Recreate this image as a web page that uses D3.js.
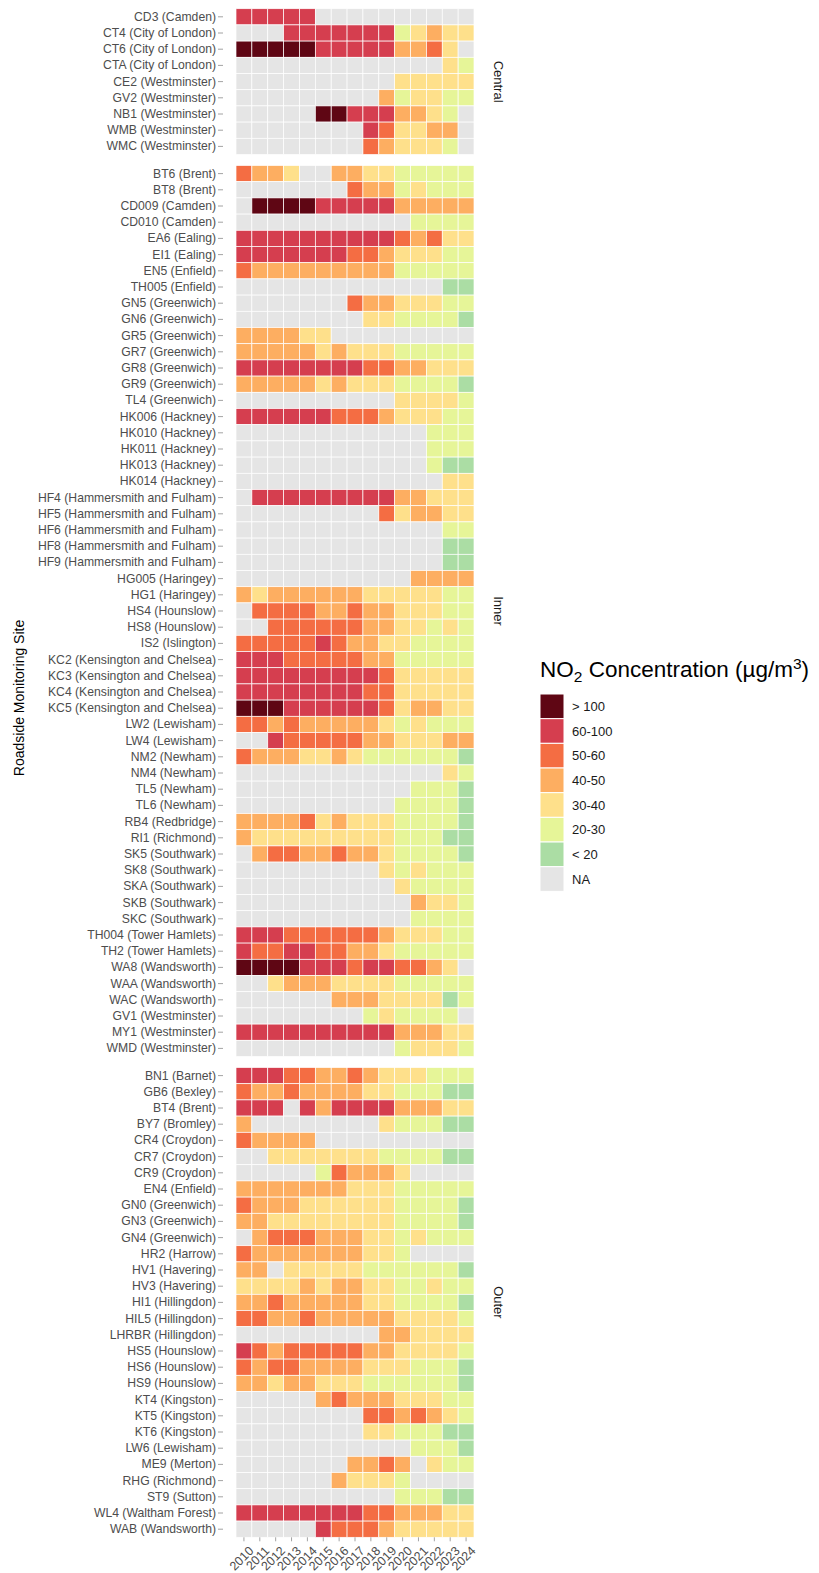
<!DOCTYPE html>
<html>
<head>
<meta charset="utf-8">
<script src="https://cdn.jsdelivr.net/npm/d3@7"></script>
<style>
  html, body { margin: 0; padding: 0; background: #fff; }
  svg { display: block; font-family: "Liberation Sans", Arial, sans-serif; }
</style>
</head>
<body>
<svg id="chart" width="819" height="1573"></svg>
<script>
// ---------------- DATA ----------------
const years = ["2010","2011","2012","2013","2014","2015","2016","2017","2018","2019","2020","2021","2022","2023","2024"];

// concentration bands (legend order) and cell codes used in the rows below
const bandLabels = ["> 100", "60-100", "50-60", "40-50", "30-40", "20-30", "< 20", "NA"];
const bandCodes  = ["X", "6", "5", "4", "3", "2", "1", "."];
const bandColours = ["#5f0614", "#d53e4f", "#f46d43", "#fdae61", "#fee08b", "#e6f598", "#abdda4", "#e5e5e5"];

const zones = ["Central", "Inner", "Outer"];

const centralSites = ["CD3 (Camden)","CT4 (City of London)","CT6 (City of London)","CTA (City of London)","CE2 (Westminster)","GV2 (Westminster)","NB1 (Westminster)","WMB (Westminster)","WMC (Westminster)"];
const centralBands = [
  "66666..........",
  "...666666623433",
  "XXXXX666664453.",
  ".............32",
  "..........33333",
  ".........423322",
  ".....XX6664432.",
  "........653344.",
  "........543332."
];

const innerSites = ["BT6 (Brent)","BT8 (Brent)","CD009 (Camden)","CD010 (Camden)","EA6 (Ealing)","EI1 (Ealing)","EN5 (Enfield)","TH005 (Enfield)","GN5 (Greenwich)","GN6 (Greenwich)","GR5 (Greenwich)","GR7 (Greenwich)","GR8 (Greenwich)","GR9 (Greenwich)","TL4 (Greenwich)","HK006 (Hackney)","HK010 (Hackney)","HK011 (Hackney)","HK013 (Hackney)","HK014 (Hackney)","HF4 (Hammersmith and Fulham)","HF5 (Hammersmith and Fulham)","HF6 (Hammersmith and Fulham)","HF8 (Hammersmith and Fulham)","HF9 (Hammersmith and Fulham)","HG005 (Haringey)","HG1 (Haringey)","HS4 (Hounslow)","HS8 (Hounslow)","IS2 (Islington)","KC2 (Kensington and Chelsea)","KC3 (Kensington and Chelsea)","KC4 (Kensington and Chelsea)","KC5 (Kensington and Chelsea)","LW2 (Lewisham)","LW4 (Lewisham)","NM2 (Newham)","NM4 (Newham)","TL5 (Newham)","TL6 (Newham)","RB4 (Redbridge)","RI1 (Richmond)","SK5 (Southwark)","SK8 (Southwark)","SKA (Southwark)","SKB (Southwark)","SKC (Southwark)","TH004 (Tower Hamlets)","TH2 (Tower Hamlets)","WA8 (Wandsworth)","WAA (Wandsworth)","WAC (Wandsworth)","GV1 (Westminster)","MY1 (Westminster)","WMD (Westminster)"];
const innerBands = [
  "5443..443322222",
  ".......54423222",
  ".XXXX6666644444",
  "...........2222",
  "666666666654533",
  "666666655433322",
  "544444444422222",
  ".............11",
  ".......54433322",
  "........3322221",
  "444433.........",
  "444443433322222",
  "666666665544333",
  "444443433322221",
  "..........33332",
  "666666555433322",
  "............222",
  "............222",
  "............211",
  ".............33",
  ".66666666644333",
  ".........534433",
  ".............22",
  ".............11",
  ".............11",
  "...........4444",
  "434444443333322",
  ".55554454433322",
  "..5555554433232",
  "555556544332222",
  "666555554422222",
  "666666666533333",
  "666666665533333",
  "XXX666666534433",
  "554544444323222",
  "..6555554433344",
  "544433432222221",
  ".............32",
  "...........2221",
  "..........22221",
  "444453433322221",
  "433333333322211",
  ".45544544322221",
  ".........323222",
  "..........32222",
  "...........4332",
  "...........2222",
  "666555555433322",
  "655665544322222",
  "XXXX6665665543.",
  "..3444333322222",
  "......444333312",
  "........232222.",
  "666666666644433",
  "..........23332"
];

const outerSites = ["BN1 (Barnet)","GB6 (Bexley)","BT4 (Brent)","BY7 (Bromley)","CR4 (Croydon)","CR7 (Croydon)","CR9 (Croydon)","EN4 (Enfield)","GN0 (Greenwich)","GN3 (Greenwich)","GN4 (Greenwich)","HR2 (Harrow)","HV1 (Havering)","HV3 (Havering)","HI1 (Hillingdon)","HIL5 (Hillingdon)","LHRBR (Hillingdon)","HS5 (Hounslow)","HS6 (Hounslow)","HS9 (Hounslow)","KT4 (Kingston)","KT5 (Kingston)","KT6 (Kingston)","LW6 (Lewisham)","ME9 (Merton)","RHG (Richmond)","ST9 (Sutton)","WL4 (Waltham Forest)","WAB (Wandsworth)"];
const outerBands = [
  "666554454333222",
  "544544443322211",
  "666.64666644433",
  "4........322211",
  "54444..........",
  "..3333333222211",
  ".....254443....",
  "444444433322222",
  "544433333322221",
  "443333333322221",
  ".45554443323222",
  "54444444332....",
  "44.333332222221",
  "333343443322322",
  "445444443322221",
  "554454444433332",
  ".........443333",
  "654555554433332",
  "545544443332221",
  "443443332222221",
  ".....4544433322",
  "........5545432",
  "........3322211",
  "...........2221",
  ".......4454.322",
  "......43332....",
  "..........22211",
  "666666665544433",
  ".....6555433333"
];

// ---------------- LAYOUT ----------------
const svg = d3.select("#chart");
const gridLeft = 236, gridRight = 474;
const rowH = 16.2, top0 = 8.7, panelGap = 11;

const x = d3.scaleBand().domain(years).range([gridLeft, gridRight]).padding(0);
const colour = d3.scaleOrdinal().domain(bandCodes).range(bandColours);

const panels = [
  { zone: zones[0], sites: centralSites, bands: centralBands },
  { zone: zones[1], sites: innerSites,   bands: innerBands },
  { zone: zones[2], sites: outerSites,   bands: outerBands }
];

let yStart = top0;
panels.forEach(p => {
  p.top = yStart;
  p.bottom = yStart + p.sites.length * rowH;
  p.y = d3.scaleBand().domain(p.sites).range([p.top, p.bottom]).padding(0);
  yStart = p.bottom + panelGap;
});

panels.forEach(p => {
  const g = svg.append("g");
  const cells = [];
  p.sites.forEach((s, i) => {
    years.forEach((yr, j) => {
      cells.push({ site: s, year: yr, code: p.bands[i][j] });
    });
  });
  g.selectAll("rect").data(cells).join("rect")
    .attr("x", d => x(d.year))
    .attr("y", d => p.y(d.site))
    .attr("width", x.bandwidth())
    .attr("height", p.y.bandwidth())
    .attr("fill", d => colour(d.code))
    .attr("stroke", "#ffffff")
    .attr("stroke-width", 0.7);

  // y axis
  const ax = svg.append("g")
    .attr("transform", `translate(223,0)`)
    .call(d3.axisLeft(p.y).tickSize(5).tickPadding(2));
  ax.select(".domain").remove();
  ax.selectAll(".tick line").attr("stroke", "#8c8c8c").attr("stroke-width", 0.8);
  ax.selectAll(".tick text")
    .attr("fill", "#4d4d4d")
    .style("font-size", "12.2px")
    .style("font-family", "'Liberation Sans', Arial, sans-serif");

  // strip label
  svg.append("text")
    .attr("transform", `translate(494,${(p.top + p.bottom) / 2}) rotate(90)`)
    .attr("text-anchor", "middle")
    .attr("fill", "#1a1a1a")
    .style("font-size", "13px")
    .text(p.zone);
});

// x axis at the bottom of the last panel
const last = panels[panels.length - 1];
const xa = svg.append("g")
  .attr("transform", `translate(0,${last.bottom})`)
  .call(d3.axisBottom(x).tickSize(4).tickPadding(2));
xa.select(".domain").remove();
xa.selectAll(".tick line").attr("stroke", "#8c8c8c").attr("stroke-width", 0.8);
xa.selectAll(".tick text")
  .attr("fill", "#4d4d4d")
  .style("font-size", "12.5px")
  .style("font-family", "'Liberation Sans', Arial, sans-serif")
  .attr("text-anchor", "end")
  .attr("y", 0).attr("dy", "0.72em")
  .attr("transform", "translate(4,8) rotate(-45)");

// y axis title
svg.append("text")
  .attr("transform", "translate(24,698) rotate(-90)")
  .attr("text-anchor", "middle")
  .attr("fill", "#000")
  .style("font-size", "14px")
  .text("Roadside Monitoring Site");

// ---------------- LEGEND ----------------
const lgX = 540, lgTitleY = 677, keyTop = 694, keyH = 24.67, keyW = 24;
const title = svg.append("text")
  .attr("x", lgX).attr("y", lgTitleY)
  .attr("fill", "#000")
  .style("font-size", "22.5px");
title.append("tspan").text("NO");
title.append("tspan").attr("dy", 5).style("font-size", "15.5px").text("2");
title.append("tspan").attr("dy", -5).text(" Concentration (µg/m");
title.append("tspan").attr("dy", -8).style("font-size", "15.5px").text("3");
title.append("tspan").attr("dy", 8).text(")");

const lg = svg.append("g");
lg.selectAll("rect").data(bandLabels).join("rect")
  .attr("x", lgX)
  .attr("y", (d, i) => keyTop + i * keyH)
  .attr("width", keyW)
  .attr("height", keyH)
  .attr("fill", (d, i) => bandColours[i])
  .attr("stroke", "#fff")
  .attr("stroke-width", 1);
lg.selectAll("text").data(bandLabels).join("text")
  .attr("x", lgX + keyW + 8)
  .attr("y", (d, i) => keyTop + i * keyH + keyH / 2)
  .attr("dy", "0.35em")
  .attr("fill", "#1a1a1a")
  .style("font-size", "13px")
  .text(d => d);
</script>
</body>
</html>
